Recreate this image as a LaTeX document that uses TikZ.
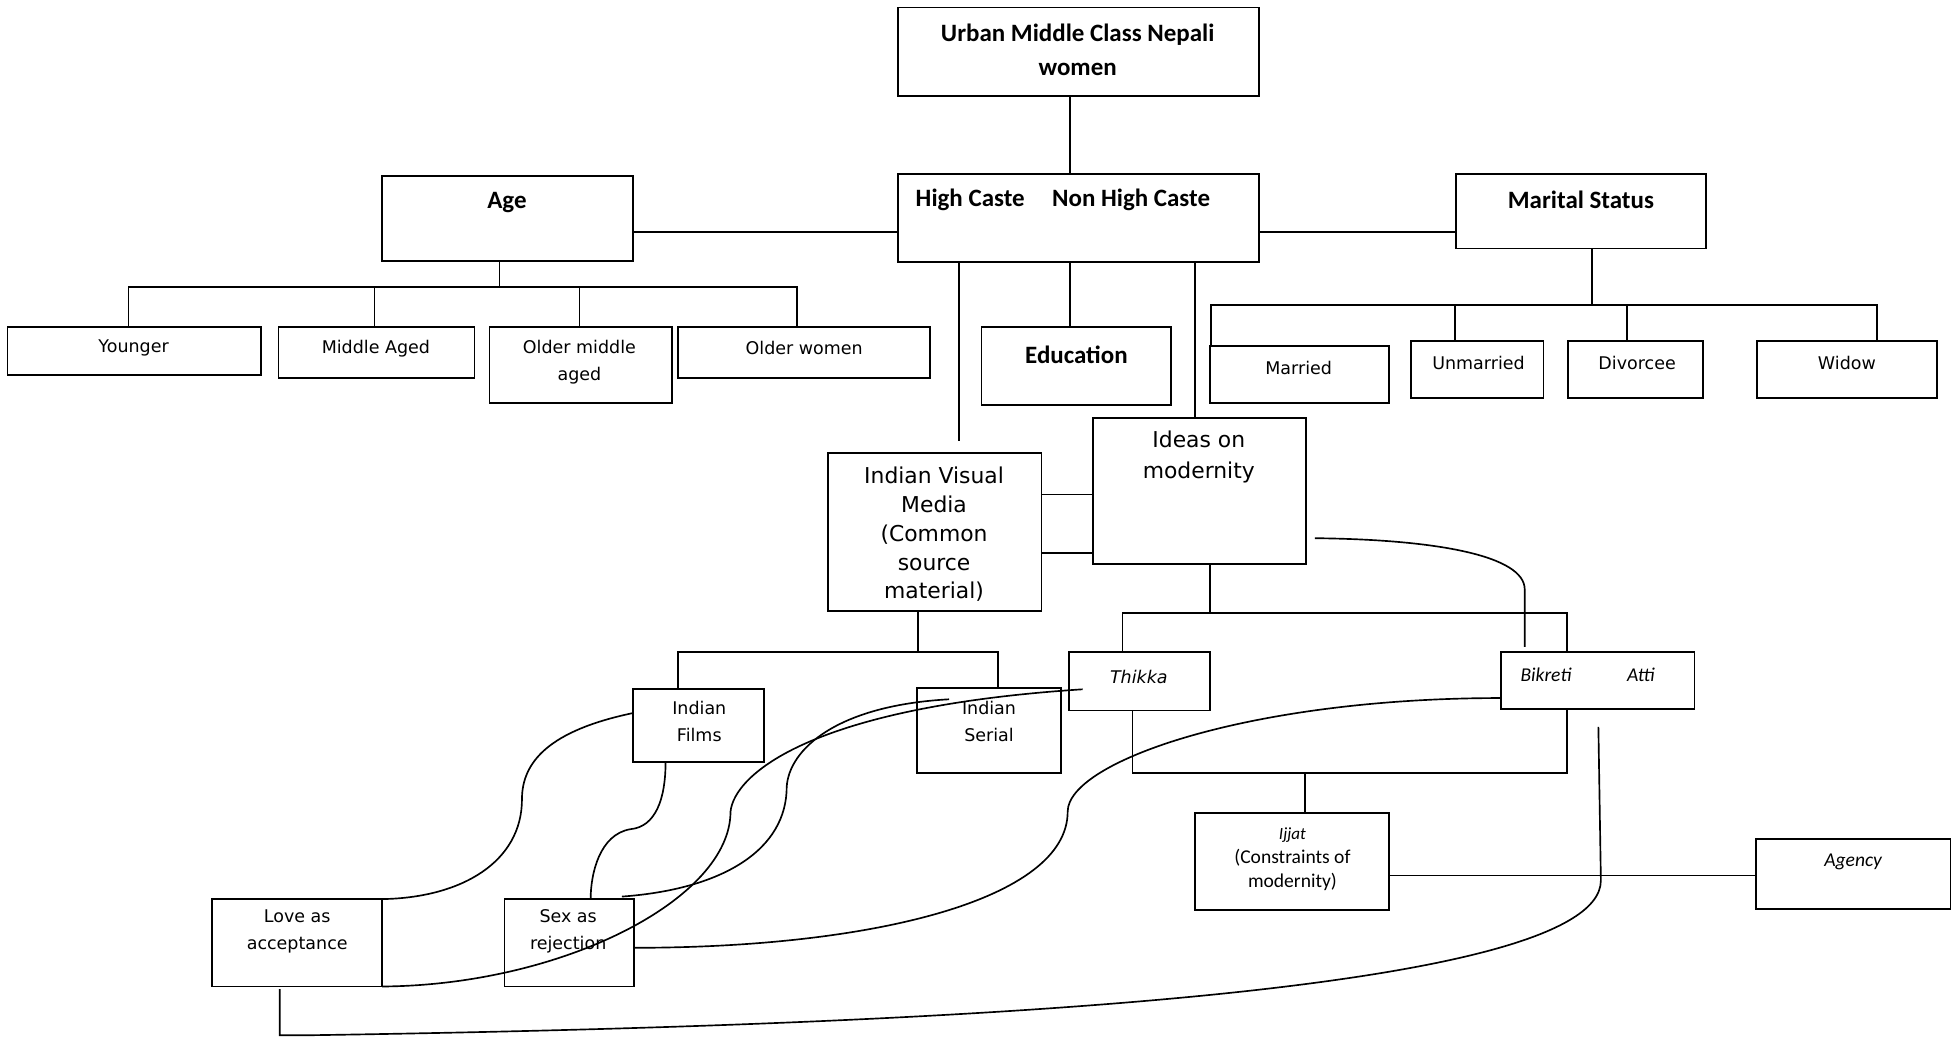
\documentclass[tikz,border=0pt]{standalone}
\usepackage{fontspec}
\setmainfont{DejaVu Sans}
\newfontfamily\calfont{Carlito}
\usetikzlibrary{calc}
\tikzset{
 box/.style={draw, line width=0.9pt, inner sep=0pt, outer sep=0pt},
 lnk/.style={line width=0.8pt},
 bt/.style={font=\calfont\bfseries\fontsize{12}{16.2}\selectfont, inner sep=0pt, align=center},
 st/.style={font=\fontsize{8.4}{13}\selectfont, inner sep=0pt, align=center},
 lt/.style={font=\fontsize{10.5}{13.8}\selectfont, inner sep=0pt, align=center},
 ct/.style={font=\calfont\fontsize{9.4}{11.5}\selectfont, inner sep=0pt, align=center},
}
\newcommand\BoxAt[5]{\pgfmathsetmacro\bxw{(#4-#2)*0.6}\pgfmathsetmacro\bxh{(#5-#3)*0.6}%
 \node[box,minimum width=\bxw pt,minimum height=\bxh pt] (#1) at ({(#2+#4)/2},{(#3+#5)/2}) {};}
\begin{document}
\begin{tikzpicture}[x=0.6pt,y=-0.6pt]
\useasboundingbox (0,0) rectangle (1568,831);
% boxes
\BoxAt{urban}{719}{6}{1008}{77}
\BoxAt{hc}{719}{139}{1008}{210}
\BoxAt{age}{306}{141}{507}{209}
\BoxAt{mar}{1166}{139}{1366}{199}
\BoxAt{young}{6}{262}{209}{300}
\BoxAt{mid}{223}{262}{380}{303}
\BoxAt{omid}{392}{262}{538}{323}
\BoxAt{owom}{543}{262}{745}{303}
\BoxAt{edu}{786}{262}{938}{324}
\BoxAt{married}{969}{277}{1112}{323}
\BoxAt{unmar}{1130}{273}{1236}{319}
\BoxAt{divor}{1256}{273}{1364}{319}
\BoxAt{widow}{1407}{273}{1551}{319}
\BoxAt{ivm}{663}{363}{834}{489}
\BoxAt{ideas}{875}{335}{1046}{452}
\BoxAt{thikka}{856}{522}{969}{569}
\BoxAt{bik}{1202}{522}{1357}{568}
\BoxAt{films}{507}{552}{612}{610}
\BoxAt{serial}{734}{551}{850}{619}
\BoxAt{love}{170}{720}{306}{790}
\BoxAt{sex}{404}{720}{508}{790}
\BoxAt{ijjat}{957}{651}{1112}{729}
\BoxAt{agency}{1406}{672}{1562}{728}
% texts
\node[bt] (urbanT) at (863,40) {Urban Middle Class Nepali\\women};
\node[bt,anchor=west] (hcT) at (733,160) {High Caste\hspace{1.1em}Non High Caste};
\node[bt] (ageT) at (406,162) {Age};
\node[bt] (marT) at (1266,160) {Marital Status};
\node[bt] (eduT) at (862,284) {Education};
\node[st] (youngT) at (107,279) {Younger};
\node[st] (midT) at (301,279) {Middle Aged};
\node[st] (omidT) at (464,290) {Older middle\\aged};
\node[st] (owomT) at (644,279) {Older women};
\node[st] (marriedT) at (1040,295) {Married};
\node[st] (unmarT) at (1184,291) {Unmarried};
\node[st] (divorT) at (1311,291) {Divorcee};
\node[st] (widowT) at (1479,291) {Widow};
\node[lt] (ivmT) at (748,428) {Indian Visual\\Media\\(Common\\source\\material)};
\node[lt,font=\fontsize{10.5}{15}\selectfont] (ideasT) at (960,366) {Ideas on\\modernity};
\node[st,font=\itshape\fontsize{8.4}{13}\selectfont] (thikkaT) at (912,542) {Thikka};
\node[ct,font=\calfont\itshape\fontsize{9.4}{11.5}\selectfont] (bikT) at (1238,540) {Bikreti};
\node[ct,font=\calfont\itshape\fontsize{9.4}{11.5}\selectfont] (attiT) at (1314,540) {Atti};
\node[st] (filmsT) at (560,578) {Indian\\Films};
\node[st] (serialT) at (792,578) {Indian\\Serial};
\node[st] (loveT) at (238,746) {Love as\\acceptance};
\node[st] (sexT) at (455,746) {Sex as\\rejection};
\node[ct,font=\calfont\itshape\fontsize{8.2}{10}\selectfont] (ijjatI) at (1035,669) {Ijjat};
\node[ct] (ijjatT) at (1035,697) {(Constraints of\\modernity)};
\node[ct,font=\calfont\itshape\fontsize{9.4}{11.5}\selectfont] (agencyT) at (1484,690) {Agency};
% tree connectors
\begin{scope}[lnk]
\draw (urban.south -| 857,0) -- (hc.north -| 857,0);
\draw (age.east |- 0,186) -- (hc.west |- 0,186);
\draw (hc.east |- 0,186) -- (mar.west |- 0,186);
\draw (age.south -| 400,0) -- (400,230);
\draw (young.north -| 103,0) -- (103,230) -- (638,230) -- (owom.north -| 638,0);
\draw (mid.north -| 300,0) -- (300,230);
\draw (omid.north -| 464,0) -- (464,230);
\draw (hc.south -| 857,0) -- (edu.north -| 857,0);
\coordinate (ivmstub) at (768,353);
\draw (hc.south -| 768,0) -- (ivmstub);
\draw (hc.south -| 957,0) -- (ideas.north -| 957,0);
\draw (mar.south -| 1275,0) -- (1275,244);
\draw (married.north -| 970,0) -- (970,244) -- (1503,244) -- (widow.north -| 1503,0);
\draw (unmar.north -| 1165,0) -- (1165,244);
\draw (divor.north -| 1303,0) -- (1303,244);
\draw (ivm.east |- 0,396) -- (ideas.west |- 0,396);
\draw (ivm.east |- 0,443) -- (ideas.west |- 0,443);
\draw (ivm.south -| 735,0) -- (735,522);
\draw (films.north -| 543,0) -- (543,522) -- (799,522) -- (serial.north -| 799,0);
\draw (ideas.south -| 969,0) -- (969,491);
\draw (thikka.north -| 899,0) -- (899,491) -- (1255,491) -- (bik.north -| 1255,0);
\draw (thikka.south -| 907,0) -- (907,619) -- (1255,619) -- (bik.south -| 1255,0);
\draw (1045,619) -- (ijjat.north -| 1045,0);
\draw (ijjat.east |- 0,701) -- (agency.west |- 0,701);
% curves
\coordinate (ideasR) at ($(ideas.east |- 0,431)+(7,0)$);
\coordinate (bikTop) at ($(bik.north -| 1221,0)+(0,-4)$);
\draw (ideasR) .. controls (1150,432) and (1221,445) .. (1221,472) -- (bikTop);
\draw (films.west |- 0,571) .. controls (440,585) and (418,610) .. (418,640)
      .. controls (418,690) and (370,719) .. (love.north east);
\draw (films.south -| 533,0) .. controls (533,640) and (525,662) .. (505,664)
      .. controls (480,668) and (473,700) .. (sex.north -| 473,0);
\coordinate (thikkaIn) at ($(thikka.west |- 0,552)+(11,0)$);
\draw (love.south east) .. controls (450,789) and (585,720) .. (585,650)
      .. controls (588,620) and (650,566) .. (thikkaIn);
\coordinate (sexTop) at ($(sex.north east)+(-10,-2)$);
\coordinate (serialIn) at ($(serial.north west)+(26,9)$);
\draw (sexTop) .. controls (580,712) and (630,680) .. (630,630)
      .. controls (632,600) and (670,565) .. (serialIn);
\draw (sex.east |- 0,759) .. controls (700,759) and (855,720) .. (855,650)
      .. controls (855,610) and (1000,559) .. (bik.west |- 0,559);
\coordinate (attiEnd) at ($(bik.south -| 1280,0)+(0,14)$);
\draw ($(love.south -| 224,0)+(0,2)$) -- (224,829) -- (250,829)
      .. controls (700,822) and (1282,800) .. (1282,705) -- (attiEnd);
\end{scope}
\end{tikzpicture}
\end{document}
